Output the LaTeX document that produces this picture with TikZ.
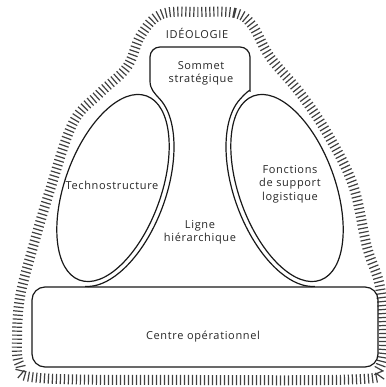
\documentclass[tikz,border=0pt]{standalone}
\usepackage{fontspec}
\setmainfont{Open Sans}[LetterSpace=6]
\usetikzlibrary{decorations.pathreplacing}
\begin{document}
\begin{tikzpicture}[x=1pt,y=1pt,
  outl/.style={line width=1.2pt,draw=black!90},
  lbl/.style={font=\fontsize{11}{13.5}\selectfont,text=black!85,align=center,inner sep=0pt},
  hatch/.style={line width=1.2pt,draw=black!75,decorate,decoration={ticks,segment length=4pt,amplitude=5pt}}]
\useasboundingbox (0,0) rectangle (385,387);
% ideology band
\draw[hatch] plot[smooth cycle,tension=0.6] coordinates {
 (200,375) (235,374) (252,362) (270,330) (300,294) (327,254) (353,202) (367,140)
 (380,100) (384,47) (379,18) (362,8) (200,7) (40,9) (20,22) (17,47) (20,90)
 (33,140) (50,197) (73,264) (100,294) (127,320) (141,352) (162,373)};
% left ellipse (technostructure)
\begin{scope}[shift={(113,199)},rotate=70]
  \draw[outl] (0,0) ellipse[x radius=98,y radius=48];
  \coordinate (L1) at (-15:103 and 53);
  \draw[outl] (L1) arc[start angle=-15,end angle=-172,x radius=103,y radius=53];
\end{scope}
% right ellipse (support)
\begin{scope}[shift={(287,199)},rotate=110]
  \draw[outl] (0,0) ellipse[x radius=98,y radius=48];
  \coordinate (R1) at (15:103 and 53);
  \draw[outl] (R1) arc[start angle=15,end angle=172,x radius=103,y radius=53];
\end{scope}
% strategic apex and middle line outline
\draw[outl] (L1) to[out=132,in=-90] (150,306)
  [rounded corners=10] -- (150,340) -- (250,340) -- (250,306)
  [sharp corners] to[out=-90,in=48] (R1);
% operating core
\draw[outl,rounded corners=13] (32,20) rectangle (378,100);
% labels
\node[lbl] (ideo) at (197,354) {IDÉOLOGIE};
\node[lbl] (apex) at (201,313.5) {Sommet\\stratégique};
\node[lbl] (techno) at (112,202) {Technostructure};
\node[lbl] (support) at (290,203) {Fonctions\\de support\\logistique};
\node[lbl] (ligne) at (200,154.5) {Ligne\\hiérarchique};
\node[lbl] (centre) at (203,50) {Centre opérationnel};
\end{tikzpicture}
\end{document}
